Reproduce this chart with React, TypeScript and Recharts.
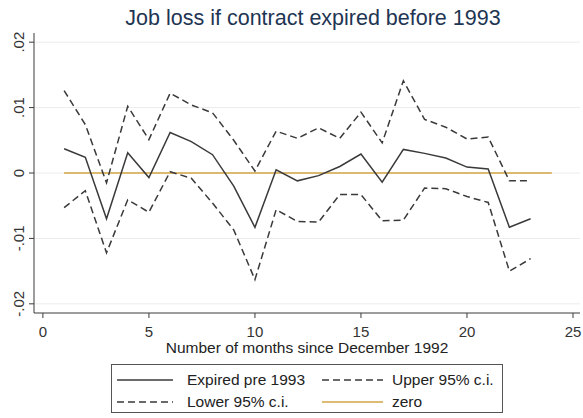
import React from "react";
import {
  CartesianGrid,
  Line,
  LineChart,
  XAxis,
  YAxis,
} from "recharts";

const months = [1, 2, 3, 4, 5, 6, 7, 8, 9, 10, 11, 12, 13, 14, 15, 16, 17, 18, 19, 20, 21, 22, 23, 24];

const expired = [
  0.0037, 0.0024, -0.007, 0.0031, -0.0007, 0.0062, 0.0048, 0.0028, -0.002, -0.0083,
  0.0005, -0.0012, -0.0004, 0.001, 0.0029, -0.0014, 0.0036, 0.003, 0.0023, 0.0009,
  0.0006, -0.0083, -0.007,
];

const upper = [
  0.0126, 0.0074, -0.0015, 0.0102, 0.0051, 0.0122, 0.0104, 0.0092, 0.005, 0.0003,
  0.0064, 0.0053, 0.0069, 0.0053, 0.0093, 0.0046, 0.0141, 0.0082, 0.007, 0.0052,
  0.0055, -0.0012, -0.0012,
];

const lower = [
  -0.0053, -0.0027, -0.0122, -0.0041, -0.006, 0.0002, -0.0008, -0.0046, -0.0087, -0.0163,
  -0.0056, -0.0074, -0.0075, -0.0033, -0.0033, -0.0073, -0.0072, -0.0023, -0.0024, -0.0036,
  -0.0045, -0.015, -0.0131,
];

const zero = months.map(() => 0);

const xTicks = [0, 5, 10, 15, 20, 25];
const yTicks = [-0.02, -0.01, 0, 0.01, 0.02];
const yTickLabels = ["-.02", "-.01", "0", ".01", ".02"];

const data = months.map((m, i) => ({
  month: m,
  expired: expired[i],
  upper: upper[i],
  lower: lower[i],
  zero: zero[i],
}));

const FONT = "'Liberation Sans', Arial, sans-serif";
const DARK = "#3a3a3a";
const GOLD = "#d2a445";

// y labels are turned on their side, like Stata does it
const YTick = (props: any) => {
  const { x, y, payload } = props;
  const idx = yTicks.indexOf(payload.value);
  return (
    <text
      x={0}
      y={0}
      transform={`translate(${x - 3}, ${y}) rotate(-90)`}
      textAnchor="middle"
      fontSize={15}
      fill="#333"
      fontFamily={FONT}
    >
      {idx >= 0 ? yTickLabels[idx] : ""}
    </text>
  );
};

const LegendItem = ({
  left,
  top,
  lineWidth,
  gap,
  dashed,
  color,
  label,
}: {
  left: number;
  top: number;
  lineWidth: number;
  gap: number;
  dashed?: boolean;
  color: string;
  label: string;
}) => (
  <div
    style={{
      position: "absolute",
      left,
      top,
      height: 20,
      display: "flex",
      alignItems: "center",
      whiteSpace: "nowrap",
    }}
  >
    <svg width={lineWidth} height={4} style={{ marginRight: gap }}>
      <line
        x1={0}
        y1={2}
        x2={lineWidth}
        y2={2}
        stroke={color}
        strokeWidth={1.5}
        strokeDasharray={dashed ? "7 4" : undefined}
      />
    </svg>
    <span>{label}</span>
  </div>
);

export default function App() {
  return (
    <div
      style={{
        position: "absolute",
        left: 0,
        top: 0,
        width: 583,
        height: 418,
        background: "#fff",
        fontFamily: FONT,
      }}
    >
      <div
        style={{
          position: "absolute",
          top: 6,
          left: 0,
          width: 626,
          textAlign: "center",
          fontSize: 21.5,
          color: "#1e3553",
        }}
      >
        Job loss if contract expired before 1993
      </div>
      <LineChart
        width={583}
        height={418}
        data={data}
        margin={{ top: 33, right: 3, left: 0, bottom: 60 }}
      >
        <CartesianGrid
          vertical={false}
          stroke="#ececec"
          horizontalValues={yTicks}
        />
        <XAxis
          dataKey="month"
          type="number"
          domain={[-0.42, 25.33]}
          ticks={xTicks}
          allowDataOverflow
          height={45}
          stroke={DARK}
          tickSize={5}
          tickMargin={8}
          tick={{ fontSize: 15, fill: "#333", fontFamily: FONT }}
          label={{
            value: "Number of months since December 1992",
            position: "insideBottom",
            offset: 5,
            fontSize: 15.5,
            fill: "#222",
            fontFamily: FONT,
          }}
        />
        <YAxis
          type="number"
          domain={[-0.0214, 0.0214]}
          ticks={yTicks}
          allowDataOverflow
          width={34}
          stroke={DARK}
          tickSize={5}
          tick={<YTick />}
        />
        <Line
          dataKey="zero"
          stroke={GOLD}
          strokeWidth={1.5}
          dot={false}
          isAnimationActive={false}
        />
        <Line
          dataKey="upper"
          stroke={DARK}
          strokeWidth={1.5}
          strokeDasharray="7 4"
          dot={false}
          isAnimationActive={false}
        />
        <Line
          dataKey="lower"
          stroke={DARK}
          strokeWidth={1.5}
          strokeDasharray="7 4"
          dot={false}
          isAnimationActive={false}
        />
        <Line
          dataKey="expired"
          stroke={DARK}
          strokeWidth={1.5}
          dot={false}
          isAnimationActive={false}
        />
      </LineChart>
      <div
        style={{
          position: "absolute",
          left: 111,
          top: 364,
          width: 392,
          height: 49,
          boxSizing: "border-box",
          border: "1px solid #555",
          fontSize: 15.5,
          color: "#222",
        }}
      >
        <LegendItem left={5} top={5} lineWidth={56} gap={14} color={DARK} label="Expired pre 1993" />
        <LegendItem left={210} top={5} lineWidth={61} gap={9} color={DARK} dashed label="Upper 95% c.i." />
        <LegendItem left={5} top={27} lineWidth={56} gap={14} color={DARK} dashed label="Lower 95% c.i." />
        <LegendItem left={210} top={27} lineWidth={61} gap={9} color={GOLD} label="zero" />
      </div>
    </div>
  );
}
